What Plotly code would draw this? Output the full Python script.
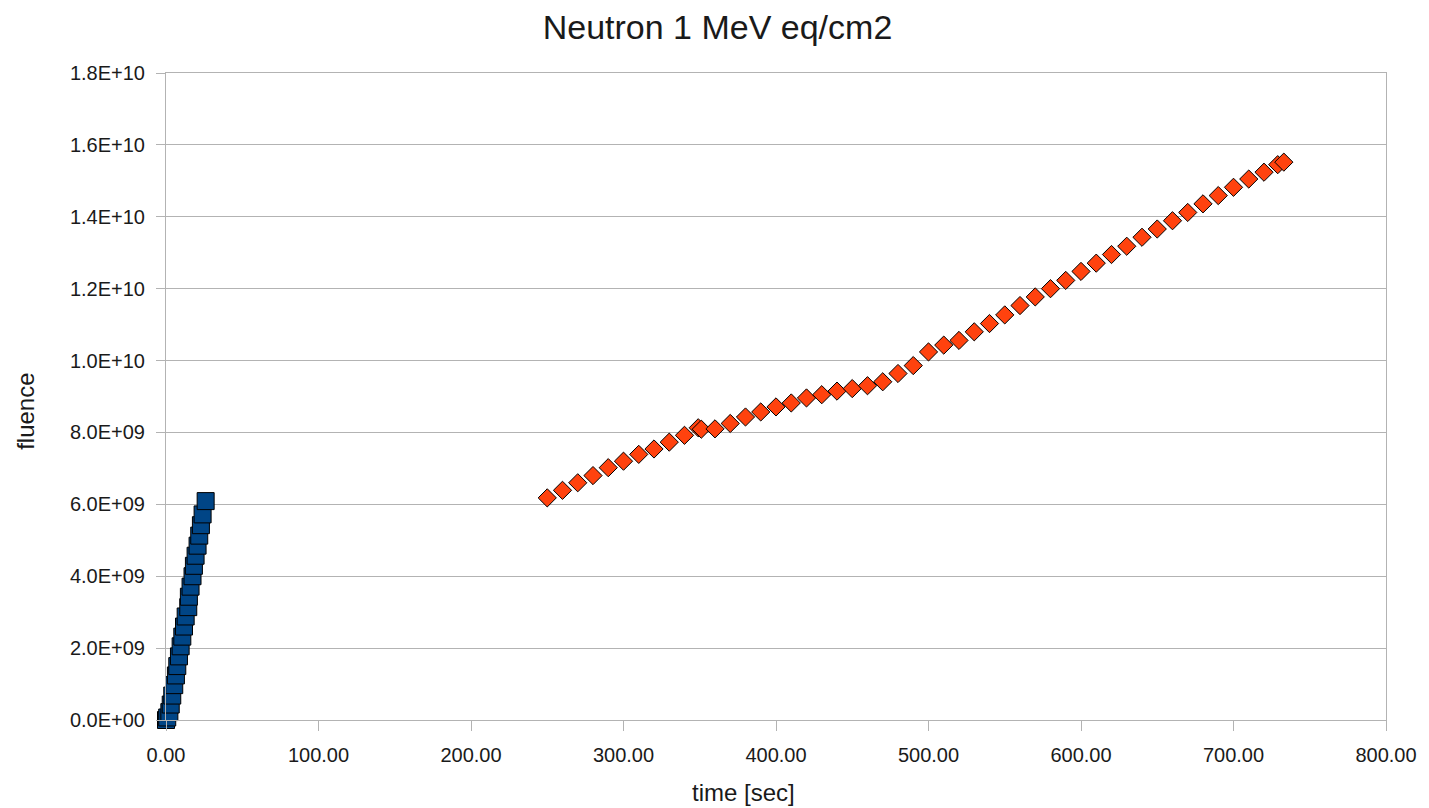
import plotly.graph_objects as go

# | data section |
blue_time = [0.0, 0.8, 2.2, 3.1, 4.1, 5.4, 6.5, 7.4, 8.5, 9.6, 10.7, 11.8, 12.9,
             14.6, 15.0, 16.1, 17.4, 18.3, 19.4, 20.7, 21.8, 22.9, 24.0, 26.0]
blue_fluence = [0.0, 0.07e9, 0.22e9, 0.43e9, 0.68e9, 0.97e9, 1.24e9, 1.50e9, 1.77e9,
                2.05e9, 2.32e9, 2.60e9, 2.88e9, 3.14e9, 3.43e9, 3.71e9, 4.00e9,
                4.29e9, 4.57e9, 4.85e9, 5.13e9, 5.42e9, 5.72e9, 6.09e9]

red_time = [250, 260, 270, 280, 290, 300, 310, 320, 330, 340, 349, 351, 360, 370,
            380, 390, 400, 410, 420, 430, 440, 450, 460, 470, 480, 490, 500, 510,
            520, 530, 540, 550, 560, 570, 580, 590, 600, 610, 620, 630, 640, 650,
            660, 670, 680, 690, 700, 710, 720, 729, 733]
red_fluence = [6.18e9, 6.39e9, 6.60e9, 6.80e9, 7.02e9, 7.20e9, 7.39e9, 7.54e9, 7.73e9,
               7.92e9, 8.13e9, 8.09e9, 8.10e9, 8.25e9, 8.43e9, 8.57e9, 8.71e9, 8.82e9,
               8.96e9, 9.05e9, 9.15e9, 9.22e9, 9.30e9, 9.41e9, 9.64e9, 9.86e9,
               10.24e9, 10.43e9, 10.56e9, 10.80e9, 11.03e9, 11.27e9, 11.53e9,
               11.77e9, 12.00e9, 12.23e9, 12.48e9, 12.71e9, 12.95e9, 13.18e9,
               13.43e9, 13.66e9, 13.89e9, 14.12e9, 14.36e9, 14.59e9, 14.82e9,
               15.05e9, 15.24e9, 15.45e9, 15.52e9]

y_ticks = [0, 2e9, 4e9, 6e9, 8e9, 1e10, 1.2e10, 1.4e10, 1.6e10, 1.8e10]
y_labels = ["0.0E+00", "2.0E+09", "4.0E+09", "6.0E+09", "8.0E+09",
            "1.0E+10", "1.2E+10", "1.4E+10", "1.6E+10", "1.8E+10"]

# | graph section |
fig = go.Figure()

fig.add_trace(
    go.Scatter(
        x=blue_time,
        y=blue_fluence,
        mode="markers",
        marker={"symbol": "square", "size": 17, "color": "#004586",
                "line": {"color": "#000000", "width": 1}},
        cliponaxis=False,
        showlegend=False,
    )
)

fig.add_trace(
    go.Scatter(
        x=red_time,
        y=red_fluence,
        mode="markers",
        marker={"symbol": "diamond", "size": 14, "color": "#ff420e",
                "line": {"color": "#000000", "width": 1}},
        cliponaxis=False,
        showlegend=False,
    )
)

# page body has an 8px margin, so the figure is a bit smaller than the window
grid = "#b3b3b3"
fig.update_layout(
    width=1421,
    height=800,
    margin={"l": 158, "r": 35, "t": 65, "b": 88},
    paper_bgcolor="white",
    plot_bgcolor="white",
    font={"family": "Liberation Sans, Arial, sans-serif", "color": "#1a1a1a", "size": 20},
    title={"text": "Neutron 1 MeV eq/cm2", "x": 0.4993, "xref": "container",
           "y": 0.976, "yanchor": "middle", "font": {"size": 34}},
    xaxis={
        "range": [0, 800],
        "dtick": 100,
        "tickformat": ".2f",
        "showgrid": False,
        "zeroline": False,
        "showline": True,
        "linecolor": grid,
        "mirror": True,
        "ticks": "outside",
        "ticklen": 10,
        "tickcolor": grid,
        "ticklabelstandoff": 7,
    },
    yaxis={
        "range": [0, 1.8e10],
        "tickvals": y_ticks,
        "ticktext": y_labels,
        "showgrid": True,
        "gridcolor": grid,
        "zeroline": False,
        "showline": True,
        "linecolor": grid,
        "mirror": True,
        "ticks": "outside",
        "ticklen": 9,
        "tickcolor": grid,
        "ticklabelstandoff": 7,
    },
    annotations=[
        dict(text="time [sec]", xref="paper", yref="paper", x=0.4735, y=-0.112,
             showarrow=False, yanchor="middle", font={"size": 24}),
        dict(text="fluence", xref="paper", yref="paper", x=-0.1152, y=0.477,
             xanchor="center", yanchor="middle", showarrow=False, textangle=-90,
             font={"size": 24}),
    ],
)

fig.write_html("out.html")
